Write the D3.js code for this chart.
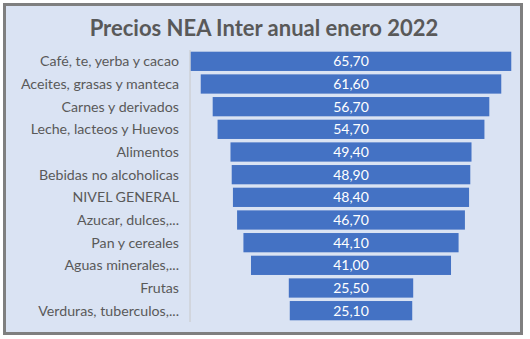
<!DOCTYPE html>
<html><head><meta charset="utf-8">
<script src="https://cdn.jsdelivr.net/npm/d3@7"></script>
<style>body{margin:0;background:#fff}svg{display:block}</style>
</head><body>
<script>
const categories = ["Café, te, yerba y cacao","Aceites, grasas y manteca","Carnes y derivados","Leche, lacteos y Huevos","Alimentos","Bebidas no alcoholicas","NIVEL GENERAL","Azucar, dulces,...","Pan y cereales","Aguas minerales,...","Frutas","Verduras, tuberculos,..."];
const values = [65.7,61.6,56.7,54.7,49.4,48.9,48.4,46.7,44.1,41.0,25.5,25.1];
const title = "Precios NEA Inter anual enero 2022";

const W=530,H=339;
const svg=d3.select("body").append("svg").attr("width",W).attr("height",H);
svg.append("rect").attr("x",4.5).attr("y",4.5).attr("width",517).attr("height",329)
  .attr("fill","#dae3f3").attr("stroke","#7f7f7f").attr("stroke-width",3);
svg.append("text").attr("x",264).attr("y",36).attr("text-anchor","middle")
  .attr("font-family","Lato").attr("font-weight","bold").attr("font-size",22).attr("fill","#595959").text(title);

const maxV=66;
const x=d3.scaleLinear().domain([-maxV/2,maxV/2]).range([190,512]);
const y=d3.scaleBand().domain(categories).range([50,322]).paddingInner(0.15).paddingOuter(0.075);

svg.append("line").attr("x1",190).attr("x2",190).attr("y1",50).attr("y2",322).attr("stroke","#c8c8c8").attr("stroke-width",1);

svg.append("g").selectAll("rect").data(values).join("rect")
  .attr("x",d=>x(-d/2)).attr("width",d=>x(d/2)-x(-d/2))
  .attr("y",(d,i)=>y(categories[i])).attr("height",y.bandwidth())
  .attr("fill","#4472c4");
svg.append("g").selectAll("text").data(values).join("text")
  .attr("x",x(0)).attr("y",(d,i)=>y(categories[i])+y.bandwidth()/2).attr("dy","0.36em")
  .attr("text-anchor","middle").attr("font-family","Lato").attr("font-size",14).attr("fill","#ffffff")
  .text(d=>d3.format(".2f")(d).replace(".",","));
svg.append("g").selectAll("text").data(categories).join("text")
  .attr("x",179).attr("y",d=>y(d)+y.bandwidth()/2).attr("dy","0.36em")
  .attr("text-anchor","end").attr("font-family","Lato").attr("font-size",14.2).attr("fill","#595959")
  .text(d=>d);
</script>
</body></html>
